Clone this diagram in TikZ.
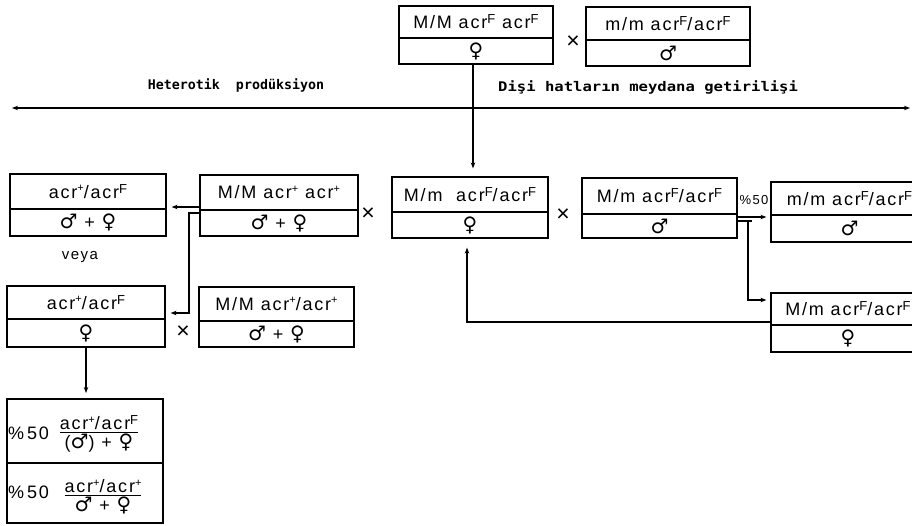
\documentclass[tikz,border=0pt]{standalone}
\usepackage{fontspec}
\usepackage{amsmath}
\usepackage{graphicx}
\usetikzlibrary{arrows.meta,fit,calc}
\newfontfamily\bxfont{Liberation Sans}[LetterSpace=10]
\newfontfamily\symf{DejaVu Sans}
\newfontfamily\hdrfont{DejaVu Sans Mono}
\newcommand\gfem{{\symf\fontsize{20}{20}\selectfont ♀}}
\newcommand\gmal{{\symf\fontsize{20}{20}\selectfont ♂}}
\newcommand\supF{\raisebox{5pt}{\fontsize{13}{13}\selectfont F}}
\newcommand\supP{\raisebox{6.5pt}{\fontsize{11}{11}\selectfont +}}
\tikzset{
  boxst/.style={draw, line width=1.2pt, inner sep=0pt},
  divst/.style={line width=1.2pt},
  conn/.style={line width=1.1pt},
  arr/.style={conn, -{Stealth[length=6pt,width=4.5pt]}},
  txt/.style={font=\bxfont\fontsize{18}{20}\selectfont, inner sep=1pt},
  symst/.style={font=\bxfont\fontsize{18}{20}\selectfont, inner sep=1pt},
  crossst/.style={font=\fontsize{23}{23}\selectfont\bxfont, inner sep=0pt},
  hdrst/.style={font=\hdrfont\bfseries\fontsize{13.3}{15}\selectfont, inner sep=0pt},
  smallst/.style={font=\bxfont\fontsize{15}{17}\selectfont, inner sep=0pt}
}
% name, x1, y1, x2, y2, ydiv, top text, bottom text
\newcommand\gbox[8]{%
  \coordinate (#1-nw) at (#2,#3);
  \coordinate (#1-se) at (#4,#5);
  \node[boxst, fit=(#1-nw)(#1-se)] (#1) {};
  \draw[divst] (#2,#6) -- (#4,#6);
  \node[txt] (#1-t) at ({(#2+#4)/2},{(#3+#6)/2}) {#7};
  \node[symst] (#1-b) at ({(#2+#4)/2},{(#6+#5)/2}) {#8};
}
\begin{document}
\begin{tikzpicture}[x=1pt,y=-1pt]
\useasboundingbox (0,0) rectangle (912,526);
% boxes
\gbox{top1}{399}{6}{553}{64}{38}{M/M acr\supF\ acr\supF}{\gfem}
\gbox{top2}{586}{7}{750}{66}{40}{m/m acr\supF/acr\supF}{\gmal}
\gbox{L1}{10}{174}{166}{236}{209}{acr\supP/acr\supF}{\gmal\ + \gfem}
\gbox{M1}{200}{175}{358}{236}{210}{M/M acr\supP\ acr\supP}{\gmal\ + \gfem}
\gbox{C}{392}{177}{548}{238}{212}{M/m\ \ acr\supF/acr\supF}{\gfem}
\gbox{R1}{582}{178}{737}{238}{214}{M/m acr\supF/acr\supF}{\gmal}
\gbox{R2}{771}{182}{928}{242}{215}{m/m acr\supF/acr\supF}{\gmal}
\gbox{L2}{7}{286}{165}{347}{319}{acr\supP/acr\supF}{\gfem}
\gbox{M2}{199}{287}{354}{347}{321}{M/M acr\supP/acr\supP}{\gmal\ + \gfem}
\gbox{R3}{771}{293}{925}{352}{325}{M/m acr\supF/acr\supF}{\gfem}
% bottom result box
\coordinate (L3-nw) at (7,399);
\coordinate (L3-se) at (163,523);
\node[boxst, fit=(L3-nw)(L3-se)] (L3) {};
\draw[divst] (7,463) -- (163,463);
\node[txt, anchor=west] (L3-p1) at (7,433) {\%\,50};
\node[txt] (L3-f1) at (99,434) {$\genfrac{}{}{1pt}{1}{\hbox{acr\supP/acr\supF}}{\hbox{(\gmal) + \gfem}}$};
\node[txt, anchor=west] (L3-p2) at (7,492) {\%\,50};
\node[txt] (L3-f2) at (103,497) {$\genfrac{}{}{1pt}{1}{\hbox{acr\supP/acr\supP}}{\hbox{\gmal\ + \gfem}}$};
% crosses
\node[crossst] (x1) at (573,42) {×};
\node[crossst] (x2) at (368,214) {×};
\node[crossst] (x3) at (563,215) {×};
\node[crossst] (x4) at (183,332) {×};
% labels
\node[hdrst] (h1) at (236,85) {Heterotik\ \ prodüksiyon};
\node[hdrst, anchor=west] (h2) at (498,87) {\scalebox{1.17}[1]{Dişi hatların meydana getirilişi}};
\node[smallst] (veya) at (80,257) {veya};
\node[font=\bxfont\fontsize{13}{15}\selectfont, inner sep=0pt] (p50) at (754,200) {\%50};
% long horizontal line
\coordinate (hl) at (12,108);
\coordinate (hr) at (910,108);
\draw[conn, {Stealth[length=6pt,width=4.5pt]}-{Stealth[length=6pt,width=4.5pt]}] (hl) -- (hr);
% connectors
\draw[arr, shorten >=8pt] ([xshift=-3pt]top1.south) -- ([xshift=-3pt]top1.south |- C.north);
\draw[arr, shorten >=5pt] (M1.west |- 0,207) -- (L1.east |- 0,207);
\coordinate (k1) at (189,213);
\draw[arr, shorten >=5pt] (M1.west |- k1) -- (k1) |- (L2.east |- 0,313);
\draw[arr, shorten >=4pt] (R1.east |- 0,217) -- (R2.west |- 0,217);
\coordinate (k2) at (748,221);
\draw[conn] (R1.east |- k2) -- (752,221);
\draw[arr, shorten >=4pt] (k2) |- (R3.west |- 0,300);
\coordinate (k3) at (467,322);
\draw[arr, shorten >=9pt] (R3.west |- k3) -- (k3) -- (k3 |- C.south);
\draw[arr, shorten >=6pt] (L2.south -| 86,0) -- (86,399);
\end{tikzpicture}
\end{document}
